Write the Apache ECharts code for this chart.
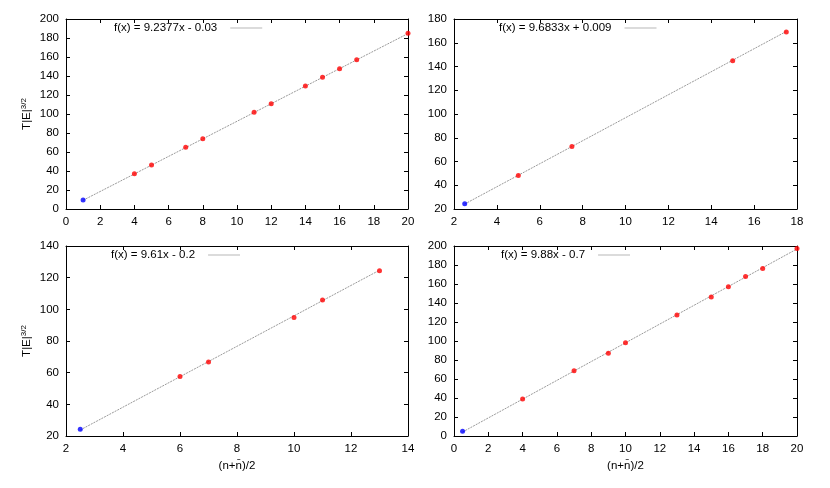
<!DOCTYPE html>
<html>
<head>
<meta charset="utf-8" />
<script src="https://cdn.jsdelivr.net/npm/echarts@6/dist/echarts.min.js"></script>
<style>
  html, body { margin: 0; padding: 0; background: #fff; }
  #chart { width: 830px; height: 488px; }
</style>
</head>
<body>
<div id="chart"></div>
<script>
// ---- data ----
var fitLabels = ['f(x) = 9.2377x - 0.03', 'f(x) = 9.6833x + 0.009', 'f(x) = 9.61x - 0.2', 'f(x) = 9.88x - 0.7'];

var redX1 = [4, 5, 7, 8, 11, 12, 14, 15, 16, 17, 20];
var redY1 = [37.2, 46.3, 64.9, 74, 101.8, 110.9, 129.5, 138.6, 147.7, 157.2, 184.9];
var blue1 = [1, 9.5];
var fit1 = [[1, 9.2], [20, 184.7]];

var redX2 = [5, 7.5, 15, 17.5];
var redY2 = [48.3, 72.7, 144.9, 169];
var blue2 = [2.5, 24.5];
var fit2 = [[2.5, 24.2], [17.5, 169.5]];

var redX3 = [6, 7, 10, 11, 13];
var redY3 = [57.6, 66.8, 94.8, 105.9, 124.4];
var blue3 = [2.5, 24.2];
var fit3 = [[2.5, 23.8], [13, 124.7]];

var redX4 = [4, 7, 9, 10, 13, 15, 16, 17, 18, 20];
var redY4 = [38.9, 68.7, 87.2, 98.1, 127.5, 146.4, 157.2, 167.8, 176.3, 197.3];
var blue4 = [0.5, 4.9];
var fit4 = [[0.5, 4.2], [20, 196.9]];

// axis ranges [xmin, xmax, xstep, ymin, ymax, ystep]
var ranges = [
  [0, 20, 2, 0, 200, 20],
  [2, 18, 2, 20, 180, 20],
  [2, 14, 2, 20, 140, 20],
  [0, 20, 2, 0, 200, 20]
];

var panels = [
  { rx: redX1, ry: redY1, blue: blue1, fit: fit1 },
  { rx: redX2, ry: redY2, blue: blue2, fit: fit2 },
  { rx: redX3, ry: redY3, blue: blue3, fit: fit3 },
  { rx: redX4, ry: redY4, blue: blue4, fit: fit4 }
];

var FONT = 'Liberation Sans';
var FIT_COLOR = '#9a9a9a';
var grids = [
  { left: 66, top: 19, width: 342, height: 190 },
  { left: 454, top: 19, width: 343, height: 190 },
  { left: 66, top: 246, width: 342, height: 190 },
  { left: 454, top: 246, width: 343, height: 190 }
];
var legendPos = [[114, 22], [499, 22], [111, 249], [501, 249]];

var xAxes = [], yAxes = [], series = [], legends = [];
var lineAx = { show: true, onZero: false, lineStyle: { color: '#000', width: 1 } };
var tickIn = { show: true, inside: true, length: 4, lineStyle: { color: '#000', width: 1 } };
var lbl = { color: '#000', fontFamily: FONT, fontSize: 11.5 };

panels.forEach(function (p, i) {
  var r = ranges[i];
  var xb = {
    type: 'value', gridIndex: i, position: 'bottom', min: r[0], max: r[1], interval: r[2],
    axisLine: lineAx, axisTick: tickIn, splitLine: { show: false },
    axisLabel: Object.assign({ margin: 7 }, lbl)
  };
  if (i >= 2) {
    xb.name = '(n+n\u0304)/2';
    xb.nameLocation = 'middle';
    xb.nameGap = 24;
    xb.nameTextStyle = { color: '#000', fontFamily: FONT, fontSize: 11.5 };
  }
  xAxes.push(xb);
  xAxes.push({
    type: 'value', gridIndex: i, position: 'top', min: r[0], max: r[1], interval: r[2],
    axisLine: lineAx, axisTick: tickIn, axisLabel: { show: false }, splitLine: { show: false }
  });
  var yl = {
    type: 'value', gridIndex: i, position: 'left', min: r[3], max: r[4], interval: r[5],
    axisLine: lineAx, axisTick: tickIn, splitLine: { show: false },
    axisLabel: Object.assign({ margin: 7 }, lbl)
  };
  if (i % 2 === 0) {
    yl.name = '{b|T|E|}{s|3/2}';
    yl.nameLocation = 'middle';
    yl.nameRotate = 90;
    yl.nameGap = 33;
    yl.nameTextStyle = {
      rich: {
        b: { color: '#000', fontFamily: FONT, fontSize: 11.5, lineHeight: 13, verticalAlign: 'bottom' },
        s: { color: '#000', fontFamily: FONT, fontSize: 8, lineHeight: 13, verticalAlign: 'top' }
      }
    };
  }
  yAxes.push(yl);
  yAxes.push({
    type: 'value', gridIndex: i, position: 'right', min: r[3], max: r[4], interval: r[5],
    axisLine: lineAx, axisTick: tickIn, axisLabel: { show: false }, splitLine: { show: false }
  });

  series.push({
    name: fitLabels[i], type: 'line', xAxisIndex: 2 * i, yAxisIndex: 2 * i,
    data: p.fit, symbol: 'none', silent: true, z: 1, color: FIT_COLOR,
    lineStyle: { color: FIT_COLOR, width: 1, type: [2, 1] }
  });
  series.push({
    type: 'scatter', xAxisIndex: 2 * i, yAxisIndex: 2 * i, symbolSize: 5, z: 3,
    itemStyle: { color: '#ff0000' },
    data: p.rx.map(function (x, k) { return [x, p.ry[k]]; })
  });
  series.push({
    type: 'scatter', xAxisIndex: 2 * i, yAxisIndex: 2 * i, symbolSize: 5, z: 3,
    itemStyle: { color: '#0000ff' },
    data: [p.blue]
  });
  legends.push({
    data: [{ name: fitLabels[i], icon: 'rect' }],
    left: legendPos[i][0], top: legendPos[i][1], align: 'right',
    itemWidth: 32, itemHeight: 1, itemGap: 0, padding: 0,
    selectedMode: false,
    itemStyle: { color: '#b8b8b8' },
    textStyle: { color: '#000', fontFamily: FONT, fontSize: 11.5, padding: [0, 8, 0, 0] }
  });
});

var chart = echarts.init(document.getElementById('chart'), null, { renderer: 'canvas' });
chart.setOption({
  animation: false,
  backgroundColor: '#fff',
  grid: grids,
  xAxis: xAxes,
  yAxis: yAxes,
  legend: legends,
  series: series
});
</script>
</body>
</html>
